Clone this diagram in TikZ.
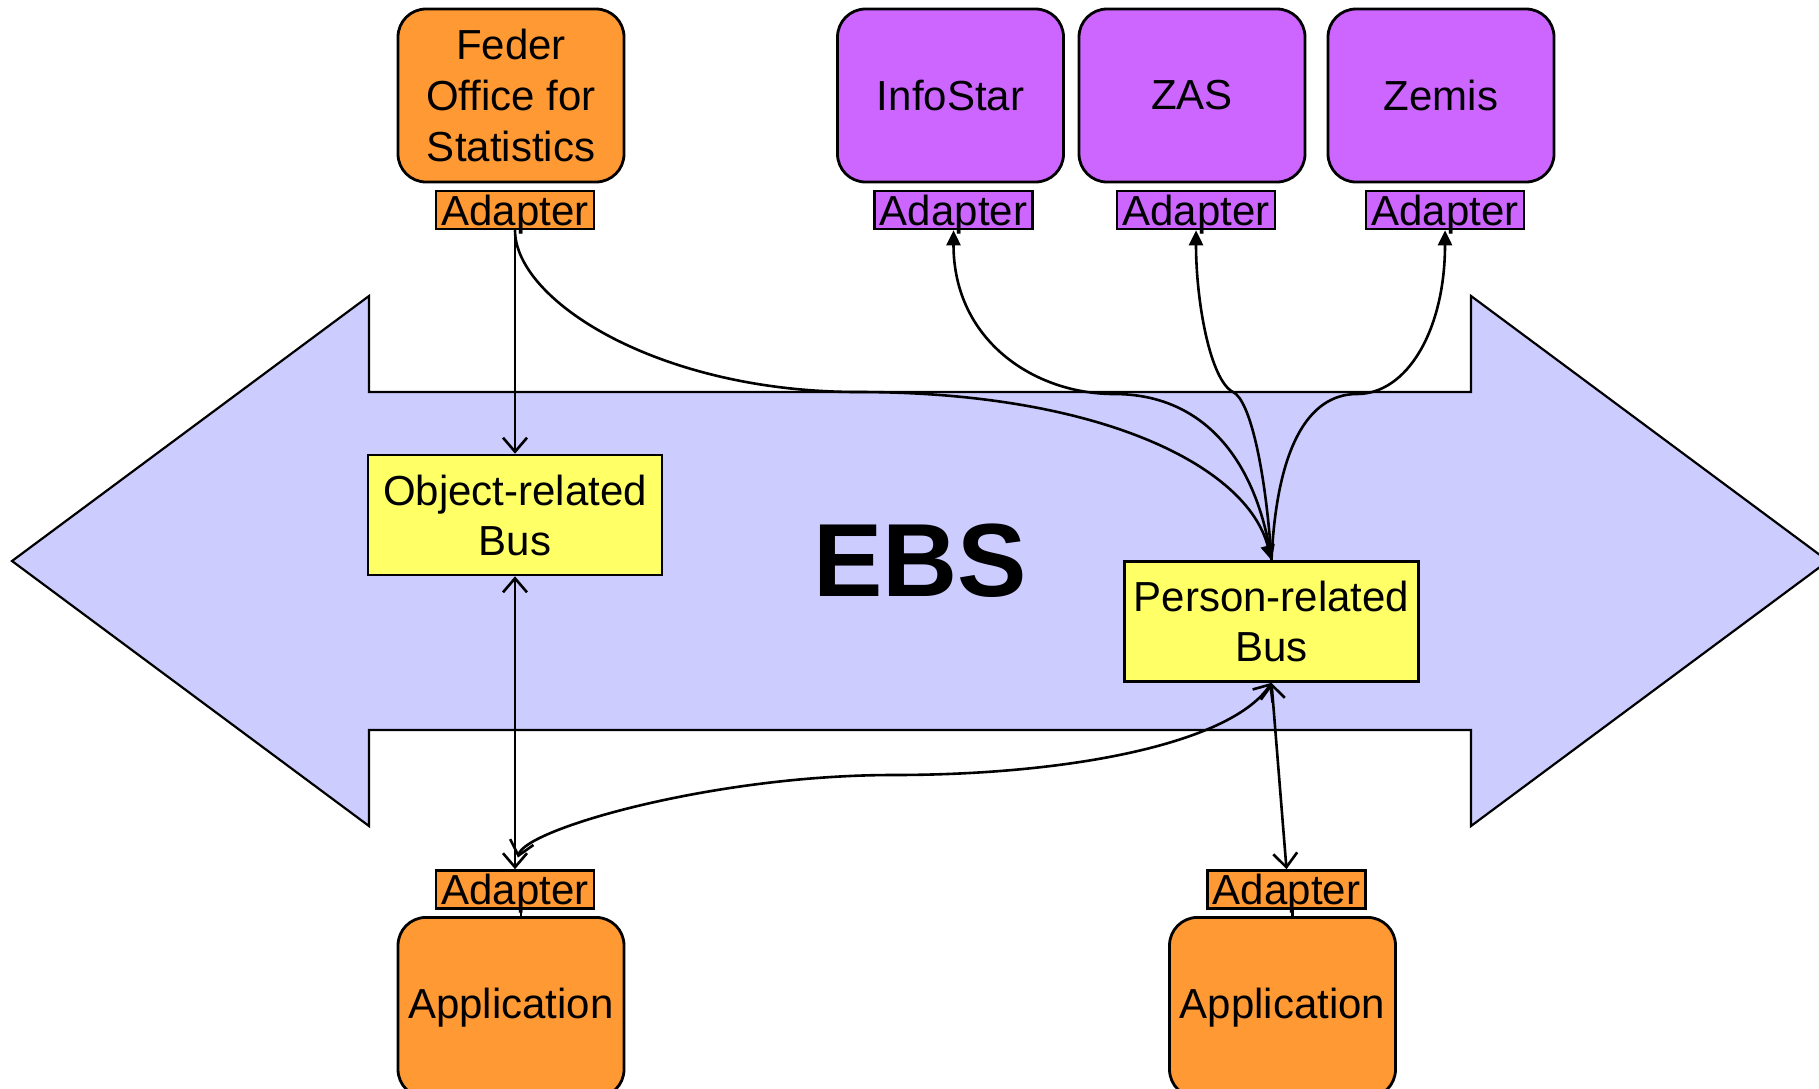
\documentclass[tikz,border=0pt]{standalone}
\usepackage{fontspec}
\setmainfont{Liberation Sans}
\usetikzlibrary{arrows.meta}
\definecolor{orng}{RGB}{255,153,51}
\definecolor{purp}{RGB}{204,102,255}
\definecolor{lblue}{RGB}{204,204,255}
\definecolor{yel}{RGB}{255,255,102}
\begin{document}
\begin{tikzpicture}[x=0.5pt,y=-0.5pt,
  txt/.style={font=\fontsize{21}{25.5}\selectfont},
  sysbox/.style={draw, line width=1.4pt, rounded corners=14pt, minimum width=113pt, minimum height=86.5pt, inner sep=0pt, align=center, txt},
  adbox/.style={draw, line width=1.3pt, minimum width=79pt, minimum height=19pt, inner sep=0pt, text depth=0pt, txt},
  busbox/.style={draw, fill=yel, line width=1.3pt, minimum width=147pt, minimum height=60pt, inner sep=0pt, align=center, font=\fontsize{21}{25}\selectfont},
  conn/.style={line width=1.3pt},
  opentip/.style={-{Straight Barb[length=7pt,width=12pt]}},
  bothopen/.style={{Straight Barb[length=7pt,width=12pt]}-{Straight Barb[length=7pt,width=12pt]}},
  filltip/.style={-{Triangle[length=7.5pt,width=7pt]}}
]
\useasboundingbox (0,0) rectangle (1819,1088);
\clip (0,0) rectangle (1819,1088);
% big double arrow
\draw[fill=lblue, line width=1.1pt] (12,561) -- (369,296) -- (369,392) -- (1471,392) -- (1471,296) -- (1828,561) -- (1471,826) -- (1471,730) -- (369,730) -- (369,826) -- cycle;
\node[font=\fontsize{52}{60}\selectfont\bfseries] (ebs) at (920,561) {EBS};
% top systems
\node[sysbox, fill=orng] (feder) at (511,95.5) {Feder\\Office for\\Statistics};
\node[sysbox, fill=purp] (info) at (950.5,95.5) {InfoStar};
\node[sysbox, fill=purp] (zas) at (1192,95.5) {ZAS};
\node[sysbox, fill=purp] (zemis) at (1441,95.5) {Zemis};
\node[adbox, fill=orng] (fedad) at (515,210) {Adapter};
\node[adbox, fill=purp] (infoad) at (953.5,210) {Adapter};
\node[adbox, fill=purp] (zasad) at (1196,210) {Adapter};
\node[adbox, fill=purp] (zemisad) at (1445,210) {Adapter};
% buses
\node[busbox] (obus) at (515,515) {Object-related\\Bus};
\node[busbox] (pbus) at (1271.5,621.5) {Person-related\\Bus};
% bottom applications
\node[adbox, fill=orng] (ladap) at (515,889.5) {Adapter};
\node[adbox, fill=orng] (radap) at (1286.5,889.5) {Adapter};
\node[sysbox, fill=orng, anchor=north, minimum height=90pt] (lapp) at (511,916) {Application};
\node[sysbox, fill=orng, anchor=north, minimum height=90pt] (rapp) at (1282.5,916) {Application};
\draw[conn] ([xshift=3pt]ladap.south) -- ([xshift=3pt]ladap.south |- lapp.north);
\draw[conn] ([xshift=3pt]radap.south) -- ([xshift=3pt]radap.south |- rapp.north);
% via points
\coordinate (fm) at (858,392);
\coordinate (im) at (1114,394);
\coordinate (zm) at (1233,392);
\coordinate (zem) at (1357,394);
\coordinate (bm) at (893,775);
% connectors
\draw[conn, opentip] (fedad.south) -- (obus.north);
\draw[conn, filltip] (fedad.south) .. controls +(0,70) and +(-200,0) .. (fm) .. controls +(240,0) and +(-25,-95) .. (pbus.north);
\draw[conn, filltip] (pbus.north) .. controls +(-15,-100) and +(90,0) .. (im) .. controls +(-80,0) and +(0,110) .. (infoad.south);
\draw[conn, filltip] (pbus.north) .. controls +(-6,-91) and +(17,8) .. (zm) .. controls +(-23,-12) and +(0,71) .. (zasad.south);
\draw[conn, filltip] (pbus.north) .. controls +(5,-110) and +(-50,0) .. (zem) .. controls +(50,0) and +(0,100) .. (zemisad.south);
\draw[conn, bothopen] (obus.south) -- (ladap.north);
\draw[conn, bothopen, shorten >=6pt] (pbus.south) .. controls +(-40,60) and +(180,0) .. (bm) .. controls +(-180,0) and +(10,-40) .. (ladap.north);
\draw[conn, bothopen] (pbus.south) -- (radap.north);
\end{tikzpicture}
\end{document}
